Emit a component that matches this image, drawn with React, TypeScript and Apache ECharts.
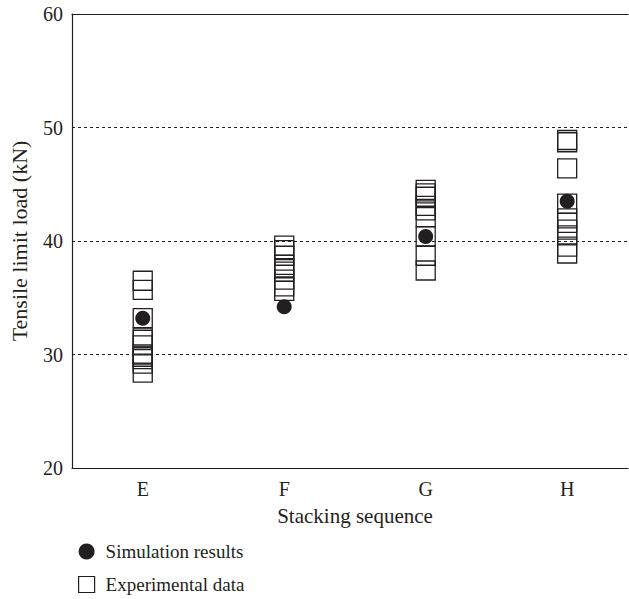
import React, { useEffect, useRef } from "react";
import * as echarts from "echarts";

const categories = ["E", "F", "G", "H"];
const simulationResults = [33.2, 34.2, 40.4, 43.5];
const experimentalE = [36.5, 35.7, 33.2, 31.5, 31.3, 30.8, 30.0, 29.8, 29.6, 29.2, 28.4];
const experimentalF = [39.6, 39.2, 38.7, 37.9, 37.6, 37.3, 36.6, 36.0, 35.6];
const experimentalG = [44.5, 44.2, 43.9, 43.1, 42.7, 42.1, 40.4, 38.7, 37.4];
const experimentalH = [48.9, 48.7, 46.4, 43.3, 42.0, 41.6, 41.0, 40.5, 39.5, 38.9];
const yTicks = [20, 30, 40, 50, 60];

const FONT = "'Liberation Serif', 'DejaVu Serif', serif";
const INK = "#231f20";

export default function App() {
  const ref = useRef<HTMLDivElement>(null);
  useEffect(() => {
    if (!ref.current) return;
    const chart = echarts.init(ref.current, null, { renderer: "svg" });
    const experimentalGroups = [experimentalE, experimentalF, experimentalG, experimentalH];
    const expData: number[][] = [];
    experimentalGroups.forEach((g, i) => g.forEach((v) => expData.push([i + 1, v])));
    const simData = simulationResults.map((v, i) => [i + 1, v]);

    chart.setOption({
      animation: false,
      textStyle: { fontFamily: FONT, color: INK },
      grid: { left: 72, right: 1, top: 14, bottom: 131 },
      xAxis: [
        {
          type: "value",
          min: 0.5,
          max: 4.43,
          interval: 0.5,
          position: "bottom",
          name: "Stacking sequence",
          nameLocation: "middle",
          nameGap: 37,
          nameTextStyle: { fontFamily: FONT, fontSize: 21, color: INK, padding: [0, 0, 0, 10] },
          axisLine: { show: true, lineStyle: { color: INK, width: 1.2 } },
          axisTick: { show: false },
          splitLine: { show: false },
          axisLabel: {
            fontFamily: FONT,
            fontSize: 20,
            color: INK,
            margin: 11,
            showMaxLabel: false,
            formatter: (v: number) => (Number.isInteger(v) && v >= 1 && v <= 4 ? categories[v - 1] : ""),
          },
        },
        {
          type: "value",
          min: 0.5,
          max: 4.43,
          interval: 0.5,
          position: "top",
          axisLine: { show: true, lineStyle: { color: INK, width: 1.2 } },
          axisTick: { show: false },
          axisLabel: { show: false },
          splitLine: { show: false },
        },
      ],
      yAxis: {
        type: "value",
        min: yTicks[0],
        max: yTicks[yTicks.length - 1],
        interval: 10,
        name: "Tensile limit load (kN)",
        nameLocation: "middle",
        nameGap: 42,
        nameTextStyle: { fontFamily: FONT, fontSize: 22, color: INK },
        axisLine: { show: true, lineStyle: { color: INK, width: 1.2 } },
        axisTick: { show: false },
        axisLabel: { fontFamily: FONT, fontSize: 20, color: INK, margin: 9 },
        splitLine: { show: true, lineStyle: { color: INK, type: [3, 3], width: 1 } },
      },
      legend: {
        orient: "vertical",
        left: 78,
        top: 542,
        padding: 0,
        itemWidth: 16,
        itemHeight: 16,
        itemGap: 14,
        textStyle: { fontFamily: FONT, fontSize: 19, color: INK, padding: [0, 0, 0, 6] },
        data: [
          { name: "Simulation results", icon: "circle", itemStyle: { color: INK } },
          {
            name: "Experimental data",
            icon: "rect",
            itemStyle: { color: "#ffffff", borderColor: INK, borderWidth: 1.2 },
          },
        ],
      },
      series: [
        {
          name: "Experimental data",
          type: "scatter",
          xAxisIndex: 0,
          symbol: "rect",
          symbolSize: 19,
          itemStyle: { color: "rgba(255,255,255,0)", borderColor: INK, borderWidth: 1.3, opacity: 1 },
          z: 2,
          data: expData,
        },
        {
          name: "Simulation results",
          type: "scatter",
          xAxisIndex: 0,
          symbol: "circle",
          symbolSize: 15,
          itemStyle: { color: INK, opacity: 1 },
          z: 3,
          data: simData,
        },
      ],
    });
    return () => chart.dispose();
  }, []);
  return <div ref={ref} style={{ width: 629, height: 599, position: "absolute", left: 0, top: 0 }} />;
}
